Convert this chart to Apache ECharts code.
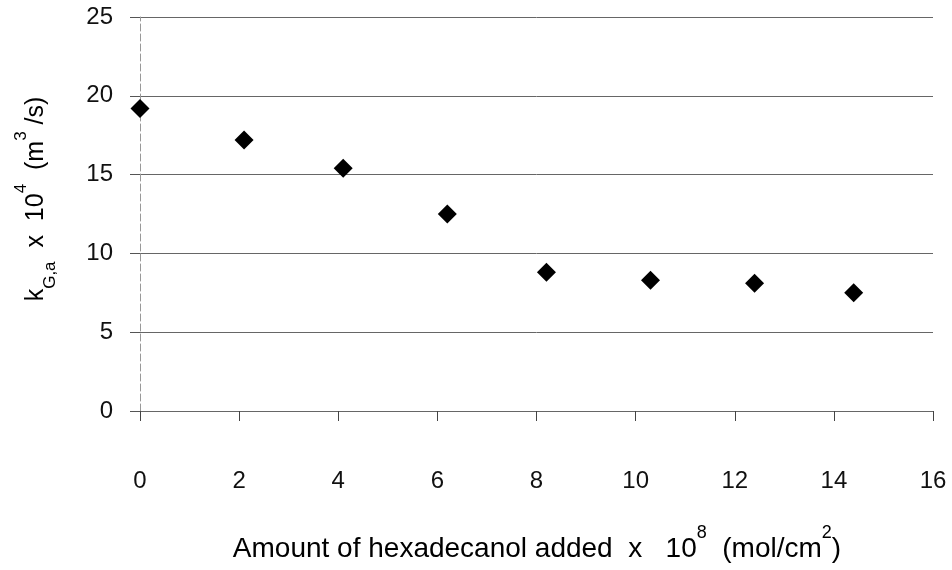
<!DOCTYPE html>
<html>
<head>
<meta charset="utf-8">
<title>Gas-side mass transfer coefficient vs hexadecanol</title>
<script src="https://cdn.jsdelivr.net/npm/echarts@6/dist/echarts.min.js"></script>
<style>
  html, body { margin: 0; padding: 0; background: #fff; }
  #chart { width: 952px; height: 570px; }
</style>
</head>
<body>
<div id="chart"></div>
<script>
// Hexadecanol added (x 10^8 mol/cm^2) and measured k_G,a (x 10^4 m^3/s)
const hexadecanolAdded = [0, 2.1, 4.1, 6.2, 8.2, 10.3, 12.4, 14.4];
const kGa = [19.2, 17.2, 15.4, 12.5, 8.8, 8.3, 8.1, 7.5];

// Axis ranges and tick spacing
const xTicks = { min: 0, max: 16, interval: 2 };
const yTicks = { min: 0, max: 25, interval: 5 };

const FONT = '"Liberation Sans", Arial, sans-serif';
const INK = '#111';

function titleRich(size, supSize) {
  return {
    b:   { fontFamily: FONT, fontSize: size, color: INK, lineHeight: size + 21 },
    sup: { fontFamily: FONT, fontSize: supSize, color: INK, lineHeight: supSize, verticalAlign: 'top' },
    sub: { fontFamily: FONT, fontSize: supSize, color: INK, lineHeight: supSize + 3, verticalAlign: 'bottom' }
  };
}

const chart = echarts.init(document.getElementById('chart'), null, { renderer: 'canvas' });

chart.setOption({
  backgroundColor: '#ffffff',
  animation: false,
  grid: { left: 140, right: 19, top: 17, bottom: 159, outerBoundsMode: 'none' },
  xAxis: {
    type: 'value',
    min: xTicks.min, max: xTicks.max, interval: xTicks.interval,
    axisLine: { show: true, onZero: false, lineStyle: { color: '#666', width: 1 } },
    axisTick: { show: true, inside: false, length: 10, lineStyle: { color: '#444', width: 1 } },
    axisLabel: { margin: 58, fontFamily: FONT, fontSize: 24, color: INK },
    splitLine: { show: false }
  },
  yAxis: {
    type: 'value',
    min: yTicks.min, max: yTicks.max, interval: yTicks.interval,
    axisLine: { show: true, lineStyle: { color: '#999', width: 1, type: [7, 3] } },
    axisTick: { show: true, inside: false, length: 10, lineStyle: { color: '#555', width: 1 } },
    axisLabel: { margin: 27, fontFamily: FONT, fontSize: 24, color: INK },
    splitLine: { show: true, lineStyle: { color: '#666', width: 1 } }
  },
  graphic: [
    {
      type: 'text',
      position: [537, 549],
      style: {
        text: '{b|Amount of hexadecanol added  x   10}{sup|8}{b|  (mol/cm}{sup|2}{b|)}',
        rich: titleRich(28, 18),
        align: 'center',
        verticalAlign: 'middle'
      }
    },
    {
      type: 'text',
      position: [36, 199],
      rotation: Math.PI / 2,
      style: {
        text: '{b|k}{sub|G,a}{b|  x  10}{sup|4}{b|  (m}{sup|3}{b| /s)}',
        rich: titleRich(25, 17),
        align: 'center',
        verticalAlign: 'middle'
      }
    }
  ],
  series: [
    {
      type: 'scatter',
      data: hexadecanolAdded.map((x, i) => [x, kGa[i]]),
      symbol: 'diamond',
      symbolSize: 19,
      itemStyle: { color: '#000', opacity: 1 },
      emphasis: { disabled: true }
    }
  ]
});
</script>
</body>
</html>
